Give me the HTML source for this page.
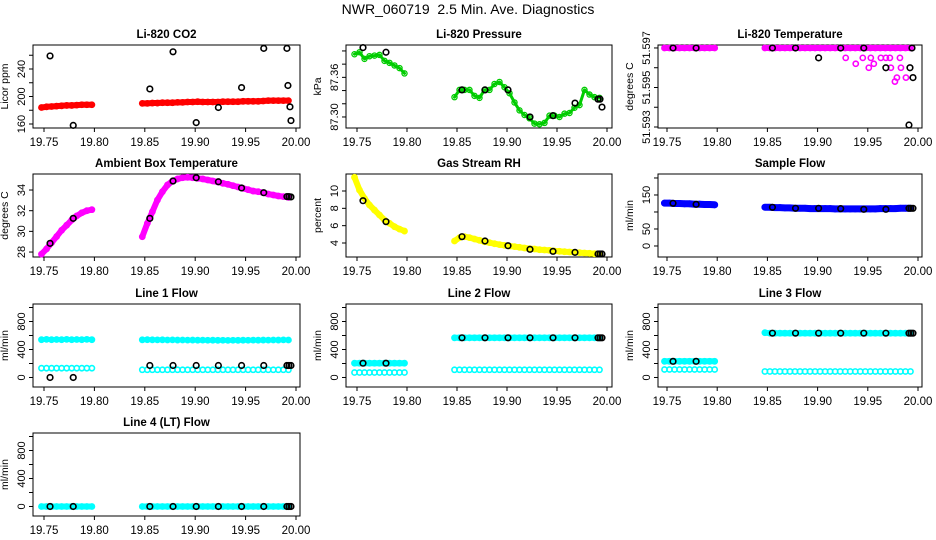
<!DOCTYPE html>
<html><head><meta charset="utf-8"><style>
html,body{margin:0;padding:0;background:#fff;width:936px;height:540px;overflow:hidden}
svg text{font-family:"Liberation Sans",sans-serif;fill:#000}
</style></head><body>
<svg id="chart" width="936" height="540" xmlns="http://www.w3.org/2000/svg">
<text x="468" y="14" text-anchor="middle" font-size="14" style="white-space:pre">NWR_060719  2.5 Min. Ave. Diagnostics</text>
</svg>
<script>
// ---- shared time categories ----
const T1 = [19.7475,19.7525,19.7575,19.7625,19.7675,19.7725,19.7775,19.7825,19.7875,19.7925,19.7975];
const T2 = [19.8475,19.8525,19.8575,19.8625,19.8675,19.8725,19.8775,19.8825,19.8875,19.8925,19.8975,19.9025,19.9075,19.9125,19.9175,19.9225,19.9275,19.9325,19.9375,19.9425,19.9475,19.9525,19.9575,19.9625,19.9675,19.9725,19.9775,19.9825,19.9875,19.9925];
const TB = [19.756,19.779,19.855,19.878,19.901,19.923,19.946,19.968,19.991,19.993,19.995];
const xTicks = [19.75,19.80,19.85,19.90,19.95,20.00];
const xTickLabels = ["19.75","19.80","19.85","19.90","19.95","20.00"];

// ---- CO2 ----
const co2A = [184,185,185.5,186,186.5,187,187,187.5,188,188,188];
const co2B = [190,190,190.5,190.5,191,191,191,191.5,191.5,192,192,192.5,192,192,192,192,192.5,192.5,192.5,192.5,193,193,193,193,193.5,194,194,194,194,194];
const co2Black = [259,158,211,265,162,184,213,270,270,216,185,165];
const co2BlackT = [19.756,19.779,19.855,19.878,19.901,19.923,19.946,19.968,19.991,19.992,19.994,19.995];
const co2Ticks = [160,180,200,220,240,260];
const co2TickLabels = ["160","","200","","240",""];

// ---- Pressure ----
const presA = [87.395,87.398,87.388,87.392,87.393,87.394,87.385,87.382,87.378,87.374,87.366];
const presB = [87.330,87.341,87.341,87.341,87.332,87.329,87.341,87.341,87.350,87.353,87.345,87.336,87.322,87.310,87.303,87.298,87.290,87.289,87.291,87.302,87.302,87.300,87.305,87.306,87.314,87.318,87.341,87.334,87.330,87.329];
const presBlack = [87.405,87.398,87.341,87.341,87.341,87.300,87.302,87.321,87.327,87.327,87.315];
const presTicks = [87.40,87.38,87.36,87.34,87.32,87.30];
const presTickLabels = ["","","87.36","","","87.30"];

// ---- Li-820 Temperature ----
const ltA = [51.597,51.597,51.597,51.597,51.597,51.597,51.597,51.597,51.597,51.597,51.597];
const ltB = [51.597,51.597,51.597,51.597,51.597,51.597,51.597,51.597,51.597,51.597,51.597,51.597,51.597,51.597,51.597,51.597,51.597,51.597,51.597,51.597,51.597,51.597,51.597,51.597,51.597,51.597,51.597,51.597,51.597,51.597];
const ltScatterT = [19.928,19.938,19.945,19.951,19.953,19.956,19.963,19.968,19.972,19.973,19.977,19.979,19.982,19.983,19.988];
const ltScatter = [51.5965,51.5962,51.5965,51.5960,51.5965,51.5962,51.5965,51.5965,51.5965,51.5960,51.5953,51.5955,51.5965,51.5960,51.5955];
const ltBlackT = [19.756,19.779,19.855,19.878,19.901,19.923,19.946,19.968,19.991,19.992,19.994,19.995];
const ltBlack = [51.597,51.597,51.597,51.597,51.5965,51.597,51.597,51.5960,51.5931,51.5960,51.597,51.5955];
const ltTicks = [51.597,51.596,51.595,51.594,51.593];
const ltTickLabels = ["51.597","","51.595","","51.593"];

// ---- Ambient box temperature ----
const ambA = [27.8,28.3,28.9,29.5,30.1,30.6,31.1,31.5,31.8,32.0,32.1];
const ambB = [29.48,30.77,31.9,33.03,33.84,34.49,34.87,35.07,35.19,35.23,35.19,35.13,35.07,34.97,34.87,34.78,34.65,34.55,34.42,34.29,34.16,34.03,33.9,33.84,33.74,33.61,33.52,33.42,33.36,33.29];
const ambBlack = [28.84,31.26,31.26,34.87,35.19,34.8,34.2,33.74,33.36,33.36,33.33];
const ambTicks = [28,30,32,34];
const ambTickLabels = ["28","30","32","34"];

// ---- Gas stream RH ----
const rhA = [11.58,10.11,9.15,8.38,7.8,7.23,6.65,6.27,5.88,5.6,5.38];
const rhB = [4.23,4.62,4.73,4.62,4.46,4.31,4.15,4.04,3.92,3.81,3.73,3.65,3.58,3.5,3.42,3.35,3.31,3.23,3.19,3.15,3.08,3.04,3.0,2.96,2.92,2.88,2.85,2.81,2.77,2.73];
const rhBlack = [8.88,6.46,4.73,4.23,3.69,3.27,3.04,2.92,2.73,2.73,2.73];
const rhTicks = [4,6,8,10];
const rhTickLabels = ["4","6","8","10"];

// ---- Sample flow ----
const sfA = [126,126,125,125,124,124,123,123,122,122,121];
const sfB = [114,114,113,113,112,112,111,111,111,110,110,110,110,110,109,109,109,109,109,109,109,109,109,110,110,110,110,111,111,111];
const sfBlack = [125.5,122.5,113.8,110.8,110.8,109.8,107.8,107.8,110.8,110.8,110.8];
const sfTicks = [0,50,100,150,200];
const sfTickLabels = ["0","50","","150",""];

// ---- Line flows ----
const flowTicks = [0,200,400,600,800,1000];
const flowTickLabels = ["0","","400","","800",""];
const l1UpA = [540,545,540,543,540,545,540,543,540,545,540];
const l1UpB = [538,540,538,537,538,536,537,535,536,534,535,533,534,532,533,531,532,530,532,531,533,532,534,533,535,534,536,535,537,536];
const l1LoA = [133,133,133,133,133,133,133,133,133,133,133];
const l1LoB = [110,110,110,110,110,110,110,110,110,110,110,110,110,110,110,110,110,110,110,110,110,110,110,110,110,110,110,110,110,110];
const l1Black = [0,0,171,171,171,171,171,171,171,171,171];
const l2UpA = [204,204,204,204,204,204,204,204,204,204,204];
const l2UpB = [567,567,567,567,567,567,567,567,567,567,567,567,567,567,567,567,567,567,567,567,567,567,567,567,567,567,567,567,567,567];
const l2LoA = [71,71,71,71,71,71,71,71,71,71,71];
const l2LoB = [110,110,110,110,110,110,110,110,110,110,110,110,110,110,110,110,110,110,110,110,110,110,110,110,110,110,110,110,110,110];
const l2Black = [204,204,567,567,567,567,567,567,567,567,567];
const l3UpA = [231,231,231,231,231,231,231,231,231,231,231];
const l3UpB = [640,633,633,633,633,633,633,633,633,633,633,633,633,633,633,633,633,633,633,633,633,633,633,633,633,633,633,633,633,633];
const l3LoA = [114,114,114,114,114,114,114,114,114,114,114];
const l3LoB = [86,86,86,86,86,86,86,86,86,86,86,86,86,86,86,86,86,86,86,86,86,86,86,86,86,86,86,86,86,86];
const l3Black = [231,231,633,633,633,633,633,633,633,633,633];
const l4A = [0,0,0,0,0,0,0,0,0,0,0];
const l4B = [0,0,0,0,0,0,0,0,0,0,0,0,0,0,0,0,0,0,0,0,0,0,0,0,0,0,0,0,0,0];
const l4Black = [0,0,0,0,0,0,0,0,0,0,0];

const NS = "http://www.w3.org/2000/svg";
const svg = document.getElementById("chart");
const COLS = [{l:33,r:300,x0:44,x1:296},{l:346,r:612,x0:357,x1:607},{l:658,r:922,x0:667,x1:918}];
const ROWS = [45,174,304,433];
const H = 83;

function mk(tag, attrs, parent){
  const e = document.createElementNS(NS, tag);
  for (const k in attrs) e.setAttribute(k, attrs[k]);
  (parent||svg).appendChild(e);
  return e;
}

function panel(p){
  const c = COLS[p.col], top = ROWS[p.row], bot = top + H;
  const g = mk("g", {});
  
  
  const xs = v => c.x0 + (v - 19.75) / 0.25 * (c.x1 - c.x0);
  const ys = v => bot - (v - p.ymin) / (p.ymax - p.ymin) * H;
  const box = mk("rect", {x:c.l, y:top, width:c.r-c.l, height:H, fill:"none", stroke:"#000", "stroke-width":1}, g);
  
  
  const t = mk("text", {x:(c.l+c.r)/2, y:top-7, "text-anchor":"middle", "font-size":"11.5", "font-weight":"bold"}, g);
  t.textContent = p.title;
  
  
  const yl = mk("text", {x:c.l-25, y:(top+bot)/2, "text-anchor":"middle", "font-size":"10.5", transform:`rotate(-90 ${c.l-25} ${(top+bot)/2})`}, g);
  yl.textContent = p.ylab;
  
  
  xTicks.forEach((v,i)=>{
    const x = xs(v);
    mk("line", {x1:x, x2:x, y1:bot, y2:bot+4, stroke:"#000"}, g);
    const tl = mk("text", {x:x, y:bot+18, "text-anchor":"middle", "font-size":"11.5"}, g);
    tl.textContent = xTickLabels[i];
    
    
  });
  p.ticks.forEach((v,i)=>{
    const y = ys(v);
    mk("line", {x1:c.l-4, x2:c.l, y1:y, y2:y, stroke:"#000"}, g);
    if (p.tickLabels[i]) {
      const tl = mk("text", {x:c.l-8, y:y, "text-anchor":"middle", "font-size":"11", transform:`rotate(-90 ${c.l-8} ${y})`}, g);
      tl.textContent = p.tickLabels[i];
      
      
    }
  });
  p.series.forEach(s=>{
    const sg = mk("g", {}, g);
    
    
    if (s.dense) {
      const pts = s.t.map((tv,i)=> xs(tv).toFixed(1)+","+ys(s.v[i]).toFixed(1)).join(" ");
      mk("polyline", {points:pts, fill:"none", stroke:s.color, "stroke-width":s.dense, "stroke-linejoin":"round", "stroke-linecap":"round"}, sg);
    }
    s.t.forEach((tv,i)=>{
      const ci = mk("circle", {cx:xs(tv), cy:ys(s.v[i]), r:s.r||2.6, fill:"none", stroke:s.color, "stroke-width":s.sw||1.6}, sg);
      
      
    });
  });
}

const BLK = (v, t) => ({name:"marker-points", t:t||TB, v:v, color:"#000", r:2.8});

panel({name:"co2-panel", col:0,row:0,title:"Li-820 CO2",ylab:"Licor ppm",ymin:154.2,ymax:274.9,ticks:co2Ticks,tickLabels:co2TickLabels,
  series:[{name:"co2-seg1",t:T1,v:co2A,color:"#f00",dense:6},{name:"co2-seg2",t:T2,v:co2B,color:"#f00",dense:6},BLK(co2Black,co2BlackT)]});
panel({name:"pressure-panel", col:1,row:0,title:"Li-820 Pressure",ylab:"kPa",ymin:87.2833,ymax:87.409,ticks:presTicks,tickLabels:presTickLabels,
  series:[{name:"pressure-seg1",t:T1,v:presA,color:"#0c0",dense:3,sw:1.3},{name:"pressure-seg2",t:T2,v:presB,color:"#0c0",dense:3,sw:1.3},BLK(presBlack)]});
panel({name:"li820-temp-panel", col:2,row:0,title:"Li-820 Temperature",ylab:"degrees C",ymin:51.59295,ymax:51.59715,ticks:ltTicks,tickLabels:ltTickLabels,
  series:[{name:"temp-seg1",t:T1,v:ltA,color:"#f0f",dense:6},{name:"temp-seg2",t:T2,v:ltB,color:"#f0f",dense:6},{name:"temp-scatter",t:ltScatterT,v:ltScatter,color:"#f0f"},BLK(ltBlack,ltBlackT)]});
panel({name:"ambient-temp-panel", col:0,row:1,title:"Ambient Box Temperature",ylab:"degrees C",ymin:27.52,ymax:35.55,ticks:ambTicks,tickLabels:ambTickLabels,
  series:[{name:"ambient-seg1",t:T1,v:ambA,color:"#f0f",dense:6},{name:"ambient-seg2",t:T2,v:ambB,color:"#f0f",dense:6},BLK(ambBlack)]});
panel({name:"rh-panel", col:1,row:1,title:"Gas Stream RH",ylab:"percent",ymin:2.385,ymax:11.96,ticks:rhTicks,tickLabels:rhTickLabels,
  series:[{name:"rh-seg1",t:T1,v:rhA,color:"#ff0",dense:6},{name:"rh-seg2",t:T2,v:rhB,color:"#ff0",dense:6},BLK(rhBlack)]});
panel({name:"sample-flow-panel", col:2,row:1,title:"Sample Flow",ylab:"ml/min",ymin:-32.4,ymax:211.7,ticks:sfTicks,tickLabels:sfTickLabels,
  series:[{name:"sample-seg1",t:T1,v:sfA,color:"#00f",dense:7},{name:"sample-seg2",t:T2,v:sfB,color:"#00f",dense:7},BLK(sfBlack)]});
panel({name:"line1-flow-panel", col:0,row:2,title:"Line 1 Flow",ylab:"ml/min",ymin:-136,ymax:1050,ticks:flowTicks,tickLabels:flowTickLabels,
  series:[{name:"line1-upper-seg1",t:T1,v:l1UpA,color:"#0ff",dense:5},{name:"line1-upper-seg2",t:T2,v:l1UpB,color:"#0ff",dense:5},
    {name:"line1-lower-seg1",t:T1,v:l1LoA,color:"#0ff"},{name:"line1-lower-seg2",t:T2,v:l1LoB,color:"#0ff"},BLK(l1Black)]});
panel({name:"line2-flow-panel", col:1,row:2,title:"Line 2 Flow",ylab:"ml/min",ymin:-136,ymax:1050,ticks:flowTicks,tickLabels:flowTickLabels,
  series:[{name:"line2-upper-seg1",t:T1,v:l2UpA,color:"#0ff",dense:6},{name:"line2-upper-seg2",t:T2,v:l2UpB,color:"#0ff",dense:6},
    {name:"line2-lower-seg1",t:T1,v:l2LoA,color:"#0ff"},{name:"line2-lower-seg2",t:T2,v:l2LoB,color:"#0ff"},BLK(l2Black)]});
panel({name:"line3-flow-panel", col:2,row:2,title:"Line 3 Flow",ylab:"ml/min",ymin:-136,ymax:1050,ticks:flowTicks,tickLabels:flowTickLabels,
  series:[{name:"line3-upper-seg1",t:T1,v:l3UpA,color:"#0ff",dense:6},{name:"line3-upper-seg2",t:T2,v:l3UpB,color:"#0ff",dense:6},
    {name:"line3-lower-seg1",t:T1,v:l3LoA,color:"#0ff"},{name:"line3-lower-seg2",t:T2,v:l3LoB,color:"#0ff"},BLK(l3Black)]});
panel({name:"line4-flow-panel", col:0,row:3,title:"Line 4 (LT) Flow",ylab:"ml/min",ymin:-136,ymax:1050,ticks:flowTicks,tickLabels:flowTickLabels,
  series:[{name:"line4-seg1",t:T1,v:l4A,color:"#0ff",dense:6},{name:"line4-seg2",t:T2,v:l4B,color:"#0ff",dense:6},BLK(l4Black)]});
</script>
</body></html>
